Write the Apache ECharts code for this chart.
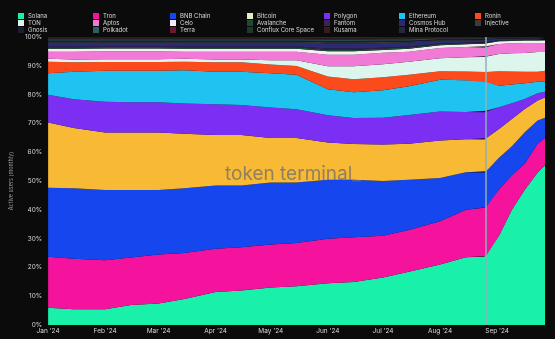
<!DOCTYPE html>
<html>
<head>
<meta charset="utf-8">
<script src="https://cdn.jsdelivr.net/npm/echarts@6/dist/echarts.min.js"></script>
<style>
html,body{margin:0;padding:0;background:#0b0b0b;}
#c{width:555px;height:339px;}
</style>
</head>
<body>
<div id="c"></div>
<script>
const dates = ['2024-01-01','2024-01-15','2024-02-01','2024-02-15','2024-03-01','2024-03-15','2024-04-01','2024-04-15','2024-05-01','2024-05-15','2024-06-01','2024-06-15','2024-07-01','2024-07-15','2024-08-01','2024-08-15','2024-08-25','2024-08-26','2024-09-02','2024-09-09','2024-09-16','2024-09-23','2024-09-27'];

const solana    = [6, 5.5, 5.5, 7, 7.5, 9, 11.5, 12, 13, 13.5, 14.5, 15, 16.5, 18.5, 21, 23.5, 23.7, 24, 31, 40, 47, 53, 55.5];
const tron      = [17.7, 17.5, 17, 16.5, 17, 16, 15, 15, 15, 15, 15.5, 15.5, 14.5, 14.5, 15, 16.5, 17.1, 17, 16, 12, 9, 10, 9.5];
const bnb       = [24, 24.5, 24.5, 23.5, 22.5, 22.5, 22, 21.5, 21.5, 21, 20.5, 20, 19, 17.5, 15, 13, 12.2, 12.5, 11, 10, 11, 8, 7];
const bitcoin   = [22.7, 21, 20, 20, 20, 19, 17.5, 17.5, 15.5, 15.5, 13, 12.5, 12.7, 12.5, 13, 11.5, 11.5, 11.5, 10, 9.5, 8, 7, 7];
const polygon   = [9.6, 10, 10.7, 10.5, 10.5, 10.5, 10.7, 10.5, 10.6, 10, 9.5, 9, 9.3, 10, 10, 9.5, 9.5, 9.5, 7.5, 5.5, 3.5, 2.5, 2];
const ethereum  = [7.5, 9.5, 10.8, 11, 11, 11.5, 11.3, 11.5, 11.9, 12, 9, 9, 9.5, 10, 11, 11, 11, 10, 7.5, 6.5, 5.5, 4, 3.5];
const ronin     = [4, 3.3, 3, 3, 3, 3, 3.3, 3.3, 3, 3, 4.5, 4.5, 4.5, 4, 3, 3, 3, 3.5, 5, 4.5, 4, 3.5, 3.8];
const ton       = [1, 1, 1, 1, 1, 1, 1, 1, 1.5, 2, 3.5, 4.5, 4.5, 4.5, 4.5, 5, 5.2, 5.5, 6, 6.3, 6.5, 6.8, 6.5];
const aptos     = [2.5, 2.7, 2.7, 2.7, 2.7, 2.5, 2.7, 2.7, 3, 3, 4, 4, 4, 3.5, 3.5, 3.5, 3.3, 3.5, 3.5, 3.5, 3.5, 3.2, 3.2];
const celo      = [1, 1, 1, 1, 1, 1, 1, 1, 1, 1, 1.2, 1.2, 1, 1, 1, 1, 1.3, 1, 0.9, 0.8, 0.8, 0.8, 0.8];
const avalanche = [0.5, 0.5, 0.5, 0.5, 0.5, 0.5, 0.5, 0.5, 0.5, 0.5, 0.6, 0.6, 0.5, 0.5, 0.4, 0.3, 0.3, 0.3, 0.25, 0.2, 0.2, 0.2, 0.2];
const fantom    = [0.3, 0.3, 0.3, 0.3, 0.3, 0.3, 0.3, 0.3, 0.3, 0.3, 0.4, 0.4, 0.3, 0.3, 0.2, 0.2, 0.2, 0.2, 0.1, 0.1, 0.1, 0.1, 0.1];
const cosmos    = [1.4, 1.4, 1.3, 1.3, 1.3, 1.4, 1.4, 1.4, 1.4, 1.4, 1.8, 1.8, 1.6, 1.4, 1.0, 0.8, 0.7, 0.6, 0.5, 0.45, 0.4, 0.4, 0.4];
const injective = [0.3, 0.3, 0.3, 0.3, 0.3, 0.3, 0.3, 0.3, 0.3, 0.3, 0.4, 0.4, 0.4, 0.3, 0.25, 0.2, 0.2, 0.2, 0.15, 0.1, 0.1, 0.1, 0.1];
const gnosis    = [0.4, 0.4, 0.4, 0.4, 0.4, 0.4, 0.4, 0.4, 0.4, 0.4, 0.5, 0.5, 0.5, 0.4, 0.3, 0.3, 0.25, 0.2, 0.15, 0.15, 0.1, 0.1, 0.1];
const polkadot  = [0.3, 0.3, 0.3, 0.3, 0.3, 0.3, 0.3, 0.3, 0.3, 0.3, 0.3, 0.3, 0.3, 0.3, 0.2, 0.2, 0.2, 0.2, 0.1, 0.1, 0.1, 0.1, 0.1];
const terra     = [0.2, 0.2, 0.2, 0.2, 0.2, 0.2, 0.2, 0.2, 0.2, 0.2, 0.2, 0.2, 0.2, 0.2, 0.1, 0.1, 0.1, 0.1, 0.05, 0.05, 0.05, 0.05, 0.05];
const conflux   = [0.2, 0.2, 0.2, 0.2, 0.2, 0.2, 0.2, 0.2, 0.2, 0.2, 0.2, 0.2, 0.2, 0.2, 0.1, 0.1, 0.1, 0.1, 0.05, 0.05, 0.05, 0.05, 0.05];
const kusama    = [0.2, 0.2, 0.2, 0.2, 0.2, 0.2, 0.2, 0.2, 0.2, 0.2, 0.2, 0.2, 0.2, 0.2, 0.1, 0.1, 0.1, 0.1, 0.05, 0.05, 0.05, 0.05, 0.05];
const mina      = [0.3, 0.3, 0.3, 0.3, 0.3, 0.3, 0.3, 0.3, 0.3, 0.3, 0.4, 0.4, 0.3, 0.3, 0.2, 0.2, 0.2, 0.2, 0.1, 0.1, 0.1, 0.1, 0.1];

const yTicks = ['0%','10%','20%','30%','40%','50%','60%','70%','80%','90%','100%'];
const monthLabels = ['Jan','Feb','Mar','Apr','May','Jun','Jul','Aug','Sep','Oct','Nov','Dec'];

const seriesDefs = [
  ['Solana', solana, '#19f0aa'],
  ['Tron', tron, '#f5139e'],
  ['BNB Chain', bnb, '#1546ee'],
  ['Bitcoin', bitcoin, '#f8b934'],
  ['Polygon', polygon, '#7a2ff2'],
  ['Ethereum', ethereum, '#1fc3f2'],
  ['Ronin', ronin, '#fb4a1c'],
  ['TON', ton, '#dcf6ee'],
  ['Aptos', aptos, '#f07ad6'],
  ['Celo', celo, '#f6eef2'],
  ['Avalanche', avalanche, '#1b4a36'],
  ['Fantom', fantom, '#3a2450'],
  ['Cosmos Hub', cosmos, '#2b2a72'],
  ['Injective', injective, '#3c3c3c'],
  ['Gnosis', gnosis, '#1c1c32'],
  ['Polkadot', polkadot, '#2e6060'],
  ['Terra', terra, '#6a1a30'],
  ['Conflux Core Space', conflux, '#1e3a2c'],
  ['Kusama', kusama, '#3a1a24'],
  ['Mina Protocol', mina, '#262642']
];

const totals = dates.map((d, i) => seriesDefs.reduce((s, def) => s + def[1][i], 0));

const series = seriesDefs.map((def, k) => {
  const s = {
    name: def[0],
    type: 'line',
    stack: 'total',
    showSymbol: false,
    symbol: 'none',
    lineStyle: {width: 0},
    areaStyle: {opacity: 1, color: def[2]},
    itemStyle: {color: def[2]},
    data: dates.map((d, i) => [d, def[1][i] / totals[i] * 100])
  };
  if (k === seriesDefs.length - 1) {
    s.markLine = {
      silent: true, symbol: 'none', label: {show: false},
      lineStyle: {color: '#8fb0b8', width: 1.5, type: 'solid'},
      data: [{xAxis: '2024-08-26'}]
    };
  }
  return s;
});

const legendCols = [
  [13, ['Solana','TON','Gnosis']],
  [88, ['Tron','Aptos','Polkadot']],
  [165, ['BNB Chain','Celo','Terra']],
  [242, ['Bitcoin','Avalanche','Conflux Core Space']],
  [319, ['Polygon','Fantom','Kusama']],
  [394, ['Ethereum','Cosmos Hub','Mina Protocol']],
  [470, ['Ronin','Injective']]
];

const legends = legendCols.map(c => ({
  left: c[0], top: 8, orient: 'vertical',
  icon: 'rect', itemWidth: 6, itemHeight: 6, itemGap: 1,
  selectedMode: false,
  textStyle: {color: '#d8d8d8', fontSize: 6, lineHeight: 6, fontFamily: 'Inter, sans-serif', padding: [0,0,0,-1]},
  data: c[1].map(n => n === 'Bitcoin' ? {name: n, itemStyle: {color: '#e4ecc4'}} : {name: n})
}));

const chart = echarts.init(document.getElementById('c'));
chart.setOption({
  backgroundColor: '#0b0b0b',
  animation: false,
  legend: legends,
  grid: {left: 41, right: 10, top: 37, bottom: 14},
  graphic: [{
    type: 'text', left: 225, top: 165, silent: true, z: 100,
    style: {text: 'token terminal_', fill: 'rgba(110,110,110,0.75)', fontSize: 19, fontFamily: 'Inter, sans-serif'}
  }],
  xAxis: {
    type: 'time',
    min: '2024-01-01', max: '2024-09-27',
    splitNumber: 9,
    minInterval: 28 * 86400000,
    maxInterval: 31 * 86400000,
    axisLine: {show: false}, axisTick: {show: false}, splitLine: {show: false},
    axisLabel: {
      color: '#d8d8d8', fontSize: 6.5, margin: 3, fontFamily: 'Inter, sans-serif',
      hideOverlap: false,
      formatter: v => { const d = new Date(v); return monthLabels[d.getMonth()] + " '24"; }
    }
  },
  yAxis: {
    type: 'value', min: 0, max: 100, interval: 10,
    name: 'Active users (monthly)', nameLocation: 'middle', nameGap: 30,
    nameTextStyle: {color: '#9a9a9a', fontSize: 5.5, fontFamily: 'Inter, sans-serif'},
    axisLine: {show: false}, axisTick: {show: false}, splitLine: {show: false},
    axisLabel: {color: '#d8d8d8', fontSize: 6.5, margin: 6, fontFamily: 'Inter, sans-serif',
      formatter: v => yTicks[Math.round(v / 10)]}
  },
  series: series
});
</script>
</body>
</html>
